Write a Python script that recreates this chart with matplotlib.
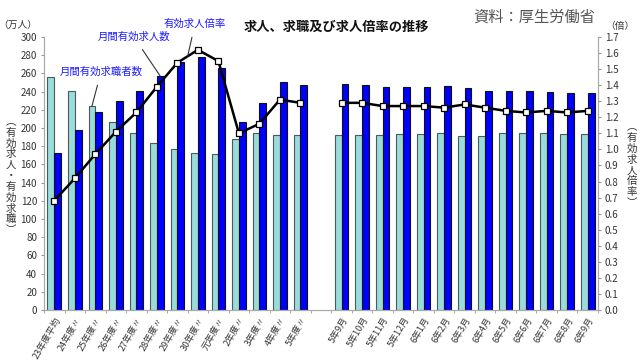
import numpy as np
import matplotlib
matplotlib.use('Agg')
import matplotlib.pyplot as plt

plt.rcParams['font.family'] = ['Noto Sans CJK JP', 'DejaVu Sans']

# annual (FY) data then monthly data
year_labels = ['23年度平均', '24年度〃', '25年度〃', '26年度〃', '27年度〃', '28年度〃', '29年度〃',
               '30年度〃', '元年度〃', '2年度〃', '3年度〃', '4年度〃', '5年度〃']
month_labels = ['5年9月', '5年10月', '5年11月', '5年12月', '6年1月', '6年2月', '6年3月',
                '6年4月', '6年5月', '6年6月', '6年7月', '6年8月', '6年9月']

# 月間有効求職者数 (万人)
seekers_year = [256, 241, 224, 207, 195, 184, 177, 172, 171, 188, 195, 192, 192]
seekers_month = [192, 192, 192, 193, 193, 195, 191, 191, 194, 195, 194, 193, 193]
# 月間有効求人数 (万人)
offers_year = [173, 198, 218, 230, 241, 257, 273, 278, 266, 207, 227, 251, 247]
offers_month = [248, 247, 245, 245, 245, 246, 244, 241, 241, 241, 240, 238, 239]
# 有効求人倍率 (倍)
ratio_year = [0.68, 0.82, 0.97, 1.11, 1.23, 1.39, 1.54, 1.62, 1.55, 1.10, 1.16, 1.31, 1.29]
ratio_month = [1.29, 1.29, 1.27, 1.27, 1.27, 1.26, 1.28, 1.26, 1.24, 1.23, 1.24, 1.23, 1.24]

x_year = np.arange(len(year_labels))
x_month = np.arange(len(month_labels)) + len(year_labels) + 1
x_all = np.concatenate([x_year, x_month])
labels = year_labels + month_labels
seekers = seekers_year + seekers_month
offers = offers_year + offers_month

fig = plt.figure(figsize=(6.4, 3.64), dpi=100)
ax = fig.add_axes([44/640, 1-310/364, (598-44)/640, (310-37)/364])
ax2 = ax.twinx()

w = 0.33
ax.bar(x_all - w/2, seekers, w, color='#9adcdc', edgecolor='#4a5a5a', linewidth=0.8, zorder=2)
ax.bar(x_all + w/2, offers, w, color='#0000ff', edgecolor='#111111', linewidth=0.8, zorder=2)

# line breaks between the yearly and monthly parts
for xs, ys in [(x_year, ratio_year), (x_month, ratio_month)]:
    ax2.plot(xs, ys, color='black', lw=1.8, marker='s', markersize=5,
             markerfacecolor='white', markeredgecolor='black', markeredgewidth=0.9)

ax.set_xlim(-0.5, x_all[-1] + 0.5)
ax.set_ylim(0, 300)
ax.set_yticks(np.arange(0, 301, 20))
ax2.set_ylim(0, 1.7)
ax2.set_yticks(np.arange(0, 1.71, 0.1))
ax2.set_yticklabels([f'{v:.1f}' for v in np.arange(0, 1.71, 0.1)])

ax.set_xticks(x_all)
ax.set_xticklabels(labels, rotation=60, ha='right', rotation_mode='anchor', fontsize=6.5, color='#333333')
ax.set_xticks(np.arange(-0.5, x_all[-1] + 1, 1), minor=True)
ax.tick_params(axis='x', which='major', length=0, pad=4)
ax.tick_params(axis='x', which='minor', length=2, color='#999999', direction='out')

for a in (ax, ax2):
    a.spines['top'].set_visible(False)
    for s in ('left', 'right', 'bottom'):
        a.spines[s].set_color('#aaaaaa')
        a.spines[s].set_linewidth(0.8)
ax.tick_params(axis='y', labelsize=7, colors='#333333', length=2, color='#999999', pad=3)
ax2.tick_params(axis='y', labelsize=7, colors='#333333', length=2, color='#999999', pad=3)

# titles and axis captions
fig.text(336/640, 1-27/364, '求人、求職及び求人倍率の推移', ha='center', va='center',
         fontsize=9.5, fontweight='bold', color='#111111')
fig.text(534/640, 1-17/364, '資料：厚生労働省', ha='center', va='center', fontsize=11, color='#555555')
fig.text(18/640, 1-25/364, '（万人）', ha='center', va='center', fontsize=7, color='#333333')
fig.text(620/640, 1-26/364, '（倍）', ha='center', va='center', fontsize=7, color='#333333')
fig.text(11/640, 1-176/364, '\n'.join('︵有効求人・有効求職︶'), ha='center', va='center',
         fontsize=7.5, color='#333333', linespacing=1.1)
fig.text(632/640, 1-165/364, '\n'.join('︵有効求人倍率︶'), ha='center', va='center',
         fontsize=7.5, color='#333333', linespacing=1.1)

# series annotations
ann = dict(fontsize=7.5, color='#1a1aff', ha='center', va='center', textcoords='figure pixels',
           arrowprops=dict(arrowstyle='-', color='#333333', lw=0.8, shrinkA=4, shrinkB=0))
ax.annotate('月間有効求職者数', xy=(2 - w/2, 224), xytext=(101, 364-72), **ann)
ax.annotate('月間有効求人数', xy=(5 + w/2, 257), xytext=(134, 364-37), **ann)
ax2.annotate('有効求人倍率', xy=(6.5, 1.58), xytext=(195, 364-24), **ann)

plt.savefig('out.png', dpi=100)
